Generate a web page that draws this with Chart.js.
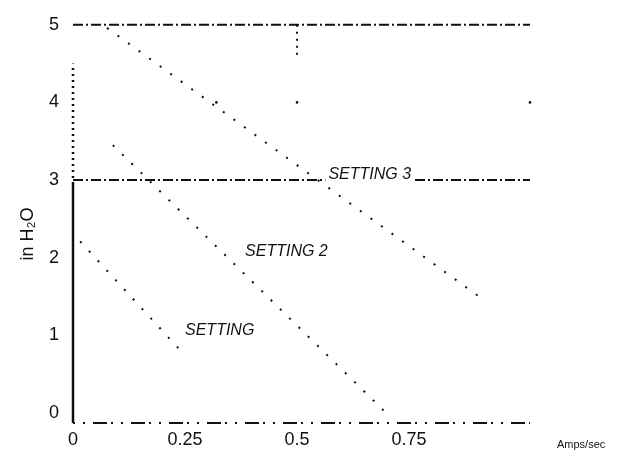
<!DOCTYPE html>
<html>
<head>
<meta charset="utf-8">
<script src="https://cdn.jsdelivr.net/npm/chart.js@4"></script>
<style>
  html, body { margin: 0; padding: 0; background: #fff; }
  #wrap { width: 638px; height: 452px; position: relative; }
</style>
</head>
<body>
<div id="wrap"><canvas id="Chart1"></canvas></div>
<script>
// the three settings (Amps/sec vs in H2O)
const setting1X = [0.016, 0.25];
const setting1Y = [2.21, 0.74];
const setting2X = [0.089, 0.699];
const setting2Y = [3.45, 0.0];
const setting3X = [0.076, 0.906];
const setting3Y = [4.96, 1.50];

const labelText = ['SETTING', 'SETTING 2', 'SETTING 3'];
const labelX = [0.25, 0.384, 0.57];
const labelY = [1.06, 2.08, 3.07];

const yTicks = [0, 1, 2, 3, 4, 5];
const xTicks = [0, 0.25, 0.5, 0.75];
const xMin = 0, xMax = 1.02, yMin = -0.13, yMax = 5;

// reference lines of the frame
const gridLevels = [5, 3];
const sparseDotsX = [0.32, 0.5, 1.02];
const sparseDotsY = [4, 4, 4];

const pts = (xs, ys) => xs.map((x, i) => ({x: x, y: ys[i]}));

const ink = '#111';
const fam = '"Liberation Sans", Arial, sans-serif';

const datasets = [];
gridLevels.forEach(lv => {
  datasets.push({
    data: pts([xMin, xMax], [lv, lv]),
    borderColor: ink, borderWidth: 2, borderDash: [10, 3, 2, 3],
    pointRadius: 0, showLine: true
  });
});
// bottom axis (dotted) and left axis (solid lower, dotted upper)
datasets.push({
  data: pts([xMin, xMax], [yMin, yMin]),
  borderColor: ink, borderWidth: 2, borderDash: [2, 8, 2, 8, 14, 4],
  pointRadius: 0, showLine: true
});
datasets.push({
  data: pts([0, 0], [yMin, 2.95]),
  borderColor: ink, borderWidth: 2.5, pointRadius: 0, showLine: true
});
datasets.push({
  data: pts([0, 0], [2.95, 4.5]),
  borderColor: ink, borderWidth: 2.5, borderDash: [2, 4],
  pointRadius: 0, showLine: true
});
datasets.push({
  data: pts([0.5, 0.5], [5, 4.6]),
  borderColor: ink, borderWidth: 2, borderDash: [2, 5],
  pointRadius: 0, showLine: true
});
datasets.push({
  data: pts(sparseDotsX, sparseDotsY),
  backgroundColor: ink, borderWidth: 0, pointRadius: 1.3, showLine: false
});

[[setting1X, setting1Y], [setting2X, setting2Y], [setting3X, setting3Y]].forEach(s => {
  datasets.push({
    data: pts(s[0], s[1]),
    borderColor: ink, borderWidth: 2, borderDash: [2, 11],
    pointRadius: 0, showLine: true
  });
});
datasets.forEach(d => { d.clip = false; });

const textPlugin = {
  id: 'texts',
  afterDatasetsDraw(chart) {
    const ctx = chart.ctx;
    const sx = chart.scales.x, sy = chart.scales.y;
    ctx.save();
    ctx.font = 'italic 16px ' + fam;
    ctx.textBaseline = 'middle';
    ctx.textAlign = 'left';
    labelText.forEach((t, i) => {
      const px = sx.getPixelForValue(labelX[i]);
      const py = sy.getPixelForValue(labelY[i]);
      const w = ctx.measureText(t).width;
      ctx.fillStyle = '#fff';
      ctx.fillRect(px - 3, py - 9, w + 6, 18);
      ctx.fillStyle = ink;
      ctx.fillText(t, px, py);
    });
    // axis titles
    ctx.font = '18px ' + fam;
    ctx.save();
    ctx.translate(28, 234);
    ctx.rotate(-Math.PI / 2);
    ctx.textAlign = 'center';
    ctx.fillText('in H\u2082O', 0, 0);
    ctx.restore();
    ctx.font = '11px ' + fam;
    ctx.textAlign = 'left';
    ctx.fillText('Amps/sec', 557, 445);
    ctx.restore();
  }
};

new Chart(document.getElementById('Chart1'), {
  type: 'scatter',
  data: { datasets: datasets },
  options: {
    responsive: true,
    maintainAspectRatio: false,
    animation: false,
    layout: { padding: { left: 0, top: 22, right: 108, bottom: 0 } },
    plugins: { legend: { display: false }, tooltip: { enabled: false } },
    scales: {
      x: {
        type: 'linear', min: xMin, max: xMax,
        grid: { display: false, drawTicks: false },
        border: { display: false },
        afterBuildTicks: s => { s.ticks = xTicks.map(v => ({value: v})); },
        afterFit: s => { s.height = 29; },
        ticks: {
          color: ink, padding: 6,
          font: { family: fam, size: 18 },
          callback: v => String(v)
        }
      },
      y: {
        type: 'linear', min: yMin, max: yMax,
        grid: { display: false, drawTicks: false },
        border: { display: false },
        afterBuildTicks: s => { s.ticks = yTicks.map(v => ({value: v})); },
        afterFit: s => { s.width = 73; },
        ticks: {
          color: ink, padding: 14,
          font: { family: fam, size: 18 },
          callback: v => String(v)
        }
      }
    }
  },
  plugins: [textPlugin]
});
</script>
</body>
</html>
